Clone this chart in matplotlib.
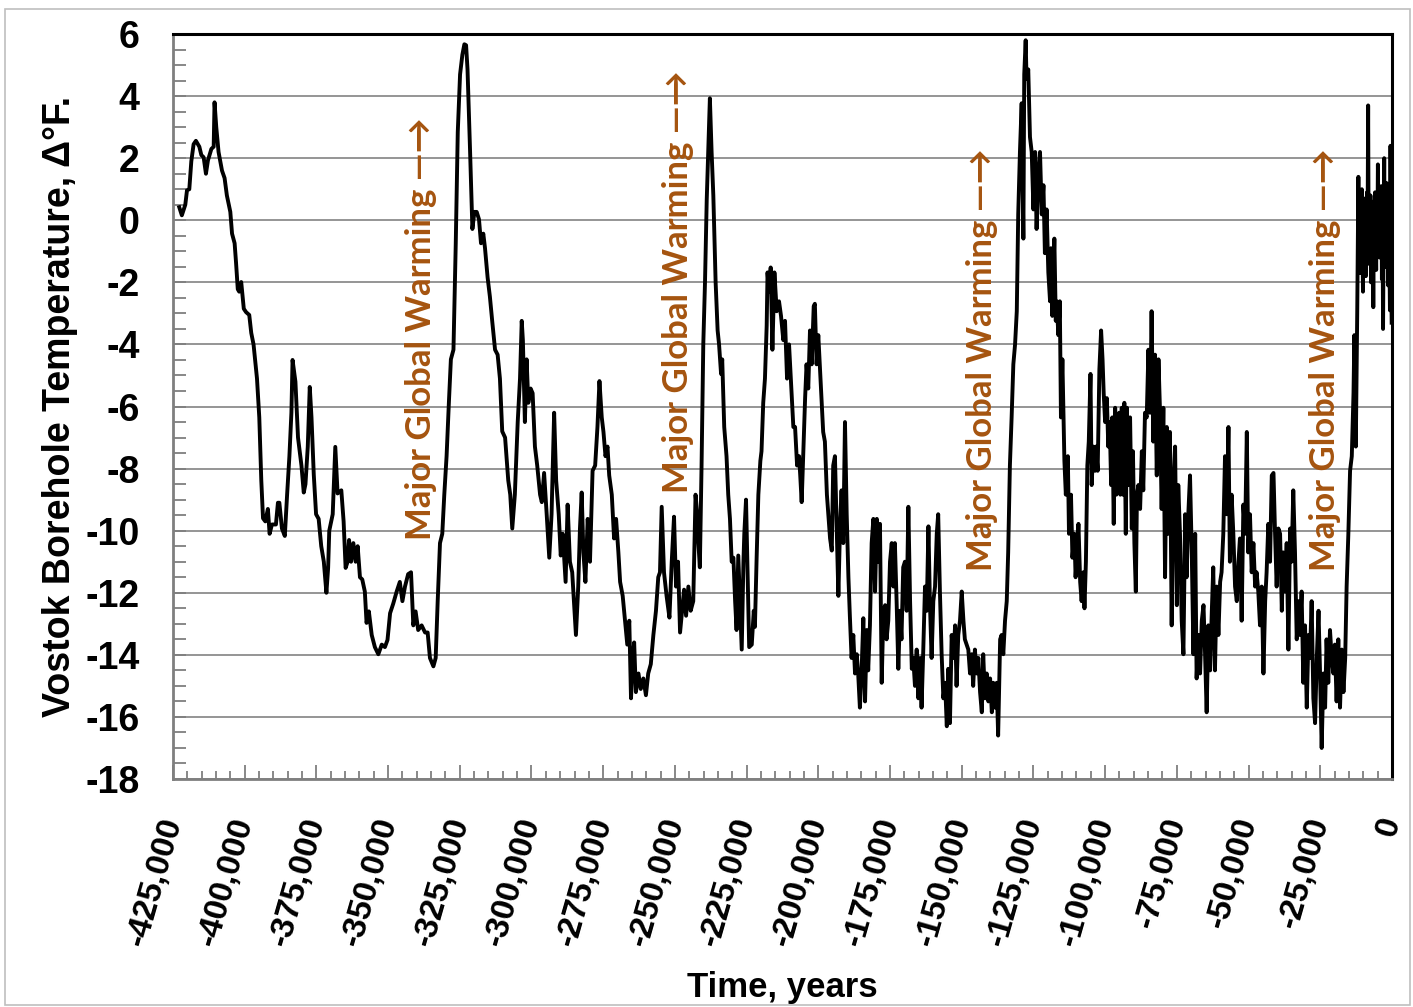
import numpy as np
import matplotlib.pyplot as plt
from matplotlib.ticker import MultipleLocator, FuncFormatter
from matplotlib.patches import Rectangle

# Vostok borehole temperature anomaly
# years (thousands, before present) and delta deg F
years_k = [
    -422.8, -421.9, -420.7, -420.1, -419.3, -418.6, -417.8, -417.0, -415.8, -415.1,
    -414.3, -413.5, -412.8, -411.6, -410.8, -410.5, -409.9, -409.1, -407.9, -407.0,
    -406.2, -405.0, -404.4, -403.5, -403.0, -402.4, -401.9, -401.2, -400.3, -399.5,
    -398.4, -397.7, -396.9, -395.7, -394.9, -394.2, -393.6, -392.8, -391.9, -391.3,
    -390.5, -389.1, -388.4, -387.9, -387.0, -386.0, -385.2, -384.4, -383.7, -383.3,
    -382.3, -381.4, -380.2, -379.4, -378.8, -378.0, -377.3, -376.7, -375.9, -375.1,
    -374.2, -373.3, -372.4, -371.5, -370.9, -370.5, -369.3, -368.4, -367.6, -366.3,
    -365.5, -364.8, -364.1, -363.6, -362.9, -362.1, -361.3, -360.6, -359.8, -359.0,
    -358.1, -357.5, -356.7, -355.7, -354.6, -353.4, -352.2, -351.1, -350.2, -349.3,
    -348.2, -347.0, -345.9, -345.0, -344.1, -343.0, -342.0, -341.2, -340.4, -339.5,
    -338.3, -337.1, -336.2, -335.4, -334.2, -333.4, -332.7, -331.9, -331.1, -330.4,
    -329.6, -328.8, -328.1, -327.2, -326.4, -325.7, -324.9, -324.1, -323.4, -322.8,
    -322.3, -321.4, -320.6, -319.9, -319.1, -318.3, -317.6, -316.8, -316.2, -315.3,
    -314.5, -313.7, -312.7, -311.8, -311.0, -310.2, -309.2, -308.1, -307.4, -306.7,
    -305.8, -304.8, -304.0, -303.4, -303.0, -302.3, -301.7, -301.1, -300.3, -299.6,
    -298.8, -298.0, -297.0, -296.4, -295.6, -294.7, -293.8, -293.0, -292.1, -291.4,
    -290.5, -289.8, -289.1, -288.1, -287.4, -286.6, -285.8, -285.2, -284.5, -283.7,
    -283.1, -282.5, -281.9, -281.2, -280.4, -279.6, -278.7, -277.8, -277.0, -276.3,
    -275.5, -274.9, -274.2, -273.5, -272.9, -272.0, -271.2, -270.5, -269.7, -269.1,
    -268.2, -267.4, -266.6, -265.9, -265.3, -264.7, -264.2, -263.6, -262.7, -261.9,
    -261.0, -260.1, -259.3, -258.4, -257.5, -256.6, -255.8, -255.2, -254.6, -253.8,
    -252.9, -251.9, -251.1, -250.3, -249.6, -248.9, -248.2, -247.5, -246.8, -246.1,
    -245.3, -244.5, -243.6, -242.8, -242.2, -241.8, -241.3, -240.7, -240.1, -239.5,
    -238.9, -238.4, -237.8, -237.2, -236.6, -235.8, -235.1, -234.6, -233.9, -233.5,
    -232.8, -232.0, -231.4, -230.8, -230.2, -229.6, -229.0, -228.5, -227.9, -227.3,
    -226.7, -226.1, -225.8, -225.2, -224.6, -224.1, -223.2, -222.5, -222.1, -221.5,
    -220.9, -220.2, -219.8, -219.2, -218.6, -218.0, -217.7, -217.2, -216.6, -216.0,
    -215.3, -214.5, -213.7, -213.0, -212.2, -211.6, -210.9, -210.2, -209.5, -208.7,
    -208.1, -207.4, -206.7, -206.3, -205.8, -205.2, -204.6, -204.1, -203.5, -202.9,
    -202.3, -201.6, -201.2, -200.6, -200.0, -199.4, -199.1, -198.3, -197.7, -197.0,
    -196.5, -195.9, -195.3, -194.8, -194.2, -193.6, -193.0, -192.4, -191.9, -191.3,
    -190.7, -190.1, -189.5, -189.0, -188.4, -187.8, -187.2, -186.6, -186.1, -185.5,
    -184.9, -184.3, -183.7, -183.1, -182.6, -182.0, -181.4, -180.8, -180.2, -179.6,
    -179.1, -178.5, -177.9, -177.3, -176.7, -176.2, -175.6, -175.0, -174.4, -173.8,
    -173.3, -172.7, -172.1, -171.5, -171.0, -170.4, -169.8, -169.2, -168.6, -168.0,
    -167.4, -166.9, -166.3, -165.7, -165.1, -164.5, -164.0, -163.4, -162.8, -162.2,
    -161.6, -161.1, -160.5, -159.9, -159.3, -158.7, -158.2, -157.6, -157.0, -156.4,
    -155.8, -155.2, -154.7, -154.1, -153.5, -152.9, -152.3, -151.8, -151.2, -150.6,
    -150.0, -149.4, -148.9, -148.3, -147.7, -147.1, -146.5, -146.0, -145.4, -144.8,
    -144.2, -143.6, -143.0, -142.5, -141.9, -141.3, -140.7, -140.1, -139.5, -139.0,
    -138.4, -137.8, -137.3, -136.6, -136.1, -135.5, -134.9, -134.3, -133.8, -133.2,
    -132.6, -132.0, -131.4, -130.8, -130.3, -129.7, -129.1, -128.5, -128.2, -127.7,
    -127.4, -126.8, -126.2, -125.6, -125.0, -124.4, -123.9, -123.3, -122.7, -122.1,
    -121.5, -121.0, -120.4, -119.8, -119.2, -118.9, -118.4, -117.7, -117.2, -116.9,
    -116.3, -115.8, -115.4, -114.9, -114.2, -113.7, -113.0, -112.6, -111.9, -111.4,
    -110.7, -110.3, -109.8, -109.3, -108.7, -108.2, -107.6, -107.2, -106.7, -106.2,
    -105.7, -105.1, -104.7, -104.1, -103.5, -103.2, -102.6, -102.0, -101.4, -100.9,
    -100.5, -100.0, -99.4, -98.9, -98.4, -97.9, -97.5, -97.0, -96.5, -96.1,
    -95.6, -95.1, -94.7, -94.2, -93.8, -93.3, -92.8, -92.4, -91.9, -91.3,
    -90.7, -90.3, -89.8, -89.3, -88.9, -88.4, -87.8, -87.2, -86.7, -86.1,
    -85.5, -84.9, -84.3, -83.8, -83.2, -82.6, -82.0, -81.4, -80.9, -80.3,
    -79.7, -79.1, -78.5, -78.0, -77.4, -76.8, -76.2, -75.6, -75.0, -74.5,
    -73.9, -73.3, -72.7, -72.1, -71.6, -71.0, -70.4, -69.8, -69.2, -68.6,
    -68.1, -67.5, -66.9, -66.3, -65.7, -65.2, -64.6, -64.0, -63.4, -62.8,
    -62.3, -61.7, -61.1, -60.5, -59.9, -59.4, -58.8, -58.2, -57.6, -57.0,
    -56.5, -55.9, -55.3, -54.7, -54.1, -53.5, -53.0, -52.4, -51.8, -51.2,
    -50.6, -50.1, -49.5, -48.9, -48.3, -47.7, -47.2, -46.6, -46.0, -45.4,
    -44.8, -44.2, -43.7, -43.1, -42.5, -41.9, -41.3, -40.8, -40.2, -39.6,
    -39.0, -38.4, -37.9, -37.3, -36.7, -36.1, -35.5, -35.0, -34.4, -33.8,
    -33.2, -32.6, -32.1, -31.5, -30.9, -30.3, -29.7, -29.1, -28.6, -28.0,
    -27.4, -26.8, -26.2, -25.6, -25.1, -24.5, -23.9, -23.3, -22.8, -22.2,
    -21.6, -21.0, -20.4, -19.9, -19.3, -18.7, -18.1, -17.5, -16.9, -16.3,
    -15.8, -15.2, -14.6, -14.0, -13.4, -13.1, -12.6, -12.1, -11.7, -11.5,
    -11.3, -11.1, -10.9, -10.7, -10.5, -10.3, -10.1, -9.9, -9.7, -9.5,
    -9.3, -9.1, -8.9, -8.7, -8.5, -8.3, -8.1, -7.9, -7.7, -7.5,
    -7.3, -7.1, -6.9, -6.7, -6.5, -6.3, -6.1, -5.9, -5.7, -5.5,
    -5.3, -5.1, -4.9, -4.7, -4.5, -4.3, -4.1, -3.9, -3.7, -3.5,
    -3.3, -3.1, -2.9, -2.7, -2.5, -2.3, -2.1, -1.9, -1.7, -1.5,
    -1.3, -1.1, -0.9, -0.7, -0.5, -0.3, -0.1,
]
temp_f = [
    0.42, 0.16, 0.50, 0.97, 1.00, 1.90, 2.45, 2.56, 2.37, 2.10,
    2.03, 1.50, 1.93, 2.30, 2.37, 3.80, 3.00, 2.20, 1.60, 1.36,
    0.80, 0.27, -0.43, -0.74, -1.37, -2.22, -2.30, -1.99, -2.85, -2.96,
    -3.05, -3.63, -4.00, -5.10, -6.35, -8.38, -9.60, -9.70, -9.30, -10.10,
    -9.80, -9.80, -9.10, -9.10, -9.93, -10.17, -8.84, -7.60, -6.20, -4.50,
    -5.20, -7.00, -7.90, -8.77, -8.50, -7.30, -5.37, -6.35, -8.20, -9.47,
    -9.62, -10.50, -11.00, -12.00, -11.20, -10.00, -9.47, -7.30, -8.80, -8.70,
    -9.70, -11.20, -11.00, -10.30, -11.00, -10.40, -11.00, -10.50, -11.50, -11.57,
    -11.96, -12.97, -12.60, -13.36, -13.75, -13.98, -13.67, -13.75, -13.52, -12.66,
    -12.35, -11.96, -11.65, -12.27, -11.80, -11.40, -11.34, -13.05, -12.60, -13.20,
    -13.05, -13.28, -13.28, -14.10, -14.37, -14.10, -12.27, -10.40, -10.10, -8.84,
    -7.60, -5.88, -4.48, -4.17, -0.74, 2.84, 4.70, 5.33, 5.67, 5.64,
    4.86, 2.20, -0.28, 0.27, 0.27, 0.03, -0.74, -0.43, -0.90, -1.84,
    -2.46, -3.24, -4.17, -4.33, -5.10, -6.80, -7.00, -8.38, -8.84, -9.93,
    -8.84, -6.50, -5.10, -3.24, -3.86, -6.50, -4.48, -5.88, -5.42, -5.57,
    -7.29, -7.90, -8.84, -9.08, -8.14, -9.47, -10.87, -9.47, -6.20, -8.38,
    -9.47, -10.80, -10.10, -11.65, -9.16, -11.00, -11.34, -12.27, -13.36, -11.80,
    -9.93, -8.77, -10.70, -11.65, -9.62, -11.00, -8.07, -7.90, -6.66, -5.18,
    -6.35, -6.82, -7.60, -7.29, -8.22, -8.84, -10.25, -9.62, -10.70, -11.65,
    -12.10, -12.90, -13.67, -12.90, -15.40, -14.10, -13.60, -15.20, -14.60, -15.10,
    -14.76, -15.30, -14.60, -14.30, -13.36, -12.58, -11.50, -11.34, -9.23, -11.34,
    -12.10, -12.80, -11.00, -9.55, -11.80, -11.00, -13.28, -12.58, -11.90, -12.74,
    -11.80, -12.58, -12.27, -8.84, -9.47, -10.40, -11.18, -7.90, -4.00, -1.99,
    0.66, 2.20, 3.93, 2.20, 0.80, -1.99, -3.55, -4.00, -4.95, -4.48,
    -6.66, -7.60, -8.84, -9.62, -11.00, -10.87, -12.27, -13.20, -10.80, -12.27,
    -13.83, -11.00, -10.10, -9.00, -11.65, -13.75, -13.67, -12.58, -13.10, -10.87,
    -8.84, -7.75, -7.44, -5.88, -5.10, -3.40, -1.68, -2.30, -1.52, -4.17,
    -1.68, -2.93, -2.61, -3.08, -3.86, -3.24, -5.10, -4.00, -5.26, -6.66,
    -6.66, -7.90, -7.60, -8.22, -9.08, -7.44, -5.73, -4.64, -5.42, -3.55,
    -4.64, -2.77, -2.69, -4.64, -3.70, -4.80, -5.42, -6.82, -7.13, -8.84,
    -9.47, -10.25, -10.64, -7.90, -7.60, -9.78, -12.10, -9.78, -8.70, -10.40,
    -6.50, -9.47, -11.50, -12.74, -14.10, -13.36, -14.60, -13.98, -14.60, -15.70,
    -14.50, -12.82, -15.50, -13.20, -14.50, -13.05, -10.40, -9.62, -11.96, -9.62,
    -11.00, -9.78, -14.90, -12.58, -12.40, -13.50, -12.90, -11.00, -10.40, -11.80,
    -10.40, -12.27, -14.45, -12.58, -13.50, -11.18, -11.00, -12.58, -9.23, -12.27,
    -14.45, -14.10, -15.00, -13.83, -15.40, -14.10, -15.70, -13.83, -11.80, -12.58,
    -9.86, -12.27, -14.10, -12.27, -11.80, -10.10, -9.47, -11.96, -13.98, -15.40,
    -14.90, -16.30, -14.45, -16.20, -13.36, -14.10, -13.05, -15.00, -13.36, -12.90,
    -11.96, -12.90, -13.50, -13.67, -13.83, -14.60, -13.98, -15.00, -13.83, -14.60,
    -14.10, -15.20, -15.85, -13.98, -15.40, -14.60, -15.50, -14.76, -15.85, -14.90,
    -15.70, -14.90, -16.60, -13.50, -13.36, -13.98, -12.90, -12.27, -10.70, -7.90,
    -6.35, -4.64, -4.00, -2.93, 0.19, 2.20, 3.77, -0.59, 4.70, 5.80,
    4.55, 4.86, 2.68, 2.20, 0.35, 2.20, -0.28, 1.44, 2.20, 0.19,
    1.13, -1.06, 0.35, -1.68, -2.61, -0.90, -3.08, -0.59, -3.24, -2.61,
    -3.70, -2.61, -6.35, -4.48, -7.75, -8.84, -7.60, -10.10, -8.84, -10.87,
    -10.10, -11.50, -10.70, -9.78, -11.65, -12.27, -11.34, -12.50, -11.00, -7.90,
    -7.13, -4.95, -8.53, -7.29, -8.07, -7.29, -8.07, -4.80, -3.55, -4.48,
    -5.57, -6.50, -5.73, -7.29, -6.50, -8.53, -6.35, -9.78, -6.04, -8.84,
    -7.13, -6.20, -8.84, -6.04, -8.84, -5.88, -10.10, -6.04, -8.53, -6.35,
    -9.93, -7.44, -10.40, -11.96, -8.84, -8.53, -9.30, -7.44, -8.70, -6.20,
    -6.35, -4.17, -6.20, -2.93, -7.13, -4.33, -8.22, -4.48, -6.04, -9.30,
    -6.04, -11.50, -6.66, -10.10, -6.82, -13.05, -8.53, -7.29, -12.40, -8.53,
    -10.10, -12.90, -13.98, -9.47, -11.50, -9.47, -8.22, -10.70, -13.98, -10.10,
    -14.76, -13.36, -14.60, -12.90, -12.40, -13.83, -15.85, -13.05, -14.50, -12.58,
    -11.18, -14.50, -11.80, -13.36, -11.65, -11.34, -10.10, -7.60, -9.47, -6.66,
    -11.00, -8.84, -10.10, -11.80, -12.27, -11.00, -10.25, -12.90, -9.16, -10.10,
    -6.82, -10.70, -9.47, -11.34, -10.40, -11.80, -11.34, -11.96, -13.05, -11.80,
    -14.60, -12.27, -11.34, -9.78, -11.00, -8.22, -8.14, -9.93, -11.80, -9.93,
    -10.10, -12.58, -10.70, -11.96, -10.40, -13.83, -9.93, -11.00, -8.70, -10.70,
    -13.50, -12.27, -13.36, -11.96, -14.90, -13.05, -15.70, -13.36, -14.10, -12.27,
    -15.40, -16.20, -14.10, -12.58, -14.45, -17.00, -14.60, -15.70, -13.50, -14.90,
    -13.20, -14.10, -14.60, -13.67, -15.50, -13.50, -15.70, -13.83, -15.20, -14.10,
    -11.80, -10.10, -8.07, -7.60, -5.57, -3.70, -7.29, -2.93, 1.40, -0.80,
    0.90, -1.70, 0.20, -1.20, 1.00, -0.50, -2.30, 0.40, -1.00, 0.70,
    -0.60, -1.80, -0.70, 0.90, -0.40, 3.70, -1.40, 0.30, -0.90, 0.80,
    -2.00, 0.60, -0.80, 0.20, -2.80, 0.50, -1.30, 0.90, -0.50, -1.60,
    0.30, -1.00, 1.80, -0.20, 0.60, -1.20, 0.90, -0.60, 1.10, -1.90,
    0.40, -3.50, -0.30, 2.00, -0.80, 0.70, -1.50, 1.20, -0.60, 0.30,
    -2.10, 1.00, -0.90, -2.90, 2.40, -1.20, -3.30,
]

notes = ['Major Global Warming \u2014\u2192'] * 4
note_years = [-338500, -248900, -143000, -23300]
note_temps = [-10.3, -8.8, -11.3, -11.3]

years = np.array(years_k) * 1000

fig = plt.figure(figsize=(14.13, 10.07), dpi=100)
ax = fig.add_axes([0.1224, 0.2264, 0.8627, 0.7398])

ax.plot(years, temp_f, color='black', linewidth=2.8, zorder=3,
        solid_joinstyle='round')

ax.set_xlim(-425000, 0)
ax.set_ylim(-18, 6)
ax.yaxis.set_major_locator(MultipleLocator(2))
ax.yaxis.set_minor_locator(MultipleLocator(0.5))
ax.xaxis.set_major_locator(MultipleLocator(25000))
ax.xaxis.set_minor_locator(MultipleLocator(5000))
ax.xaxis.set_major_formatter(FuncFormatter(lambda v, p: f'{int(round(v)):,}'))
ax.yaxis.set_major_formatter(FuncFormatter(lambda v, p: f'{int(round(v))}'))
ax.grid(axis='y', which='major', color='#8c8c8c', linewidth=1.3, zorder=1)

ax.tick_params(axis='y', which='both', direction='in', length=9, width=1.3,
               color='#7f7f7f', pad=24)
ax.tick_params(axis='x', which='major', direction='in', length=10, width=1.3,
               color='#7f7f7f', pad=28)
ax.tick_params(axis='x', which='minor', direction='in', length=6, width=1.3,
               color='#7f7f7f')

for lab in ax.get_yticklabels():
    lab.set_fontfamily('Liberation Sans')
    lab.set_fontweight('bold')
    lab.set_fontsize(27)
for lab in ax.get_xticklabels():
    lab.set_fontfamily('Liberation Sans')
    lab.set_fontweight('bold')
    lab.set_fontsize(24)
    lab.set_rotation(74)
    lab.set_ha('right')
    lab.set_va('center')
    lab.set_rotation_mode('anchor')

for side in ['left', 'bottom']:
    ax.spines[side].set_color('#7f7f7f')
    ax.spines[side].set_linewidth(2)
for side in ['top', 'right']:
    ax.spines[side].set_color('black')
    ax.spines[side].set_linewidth(2.2)

ax.set_xlabel('Time, years', fontfamily='Liberation Sans', fontweight='bold',
              fontsize=25)
ax.set_ylabel('Vostok Borehole Temperature, \u0394\u00b0F.', fontfamily='Liberation Sans',
              fontweight='bold', fontsize=27)
ax.xaxis.set_label_coords(0.5, -0.258)
ax.yaxis.set_label_coords(-0.078, 0.5)

for txt, xv, yv in zip(notes, note_years, note_temps):
    ax.text(xv, yv, txt, rotation=90, ha='center', va='bottom',
            color='#a5540f', fontsize=25, fontweight='bold',
            family=['Lato', 'DejaVu Sans'], zorder=4)

fig.patches.append(Rectangle((5 / 1413, 2 / 1007), 1405 / 1413, 996 / 1007,
                             transform=fig.transFigure, fill=False,
                             edgecolor='#bfbfbf', linewidth=1.2))

fig.savefig('out.png', dpi=100)
